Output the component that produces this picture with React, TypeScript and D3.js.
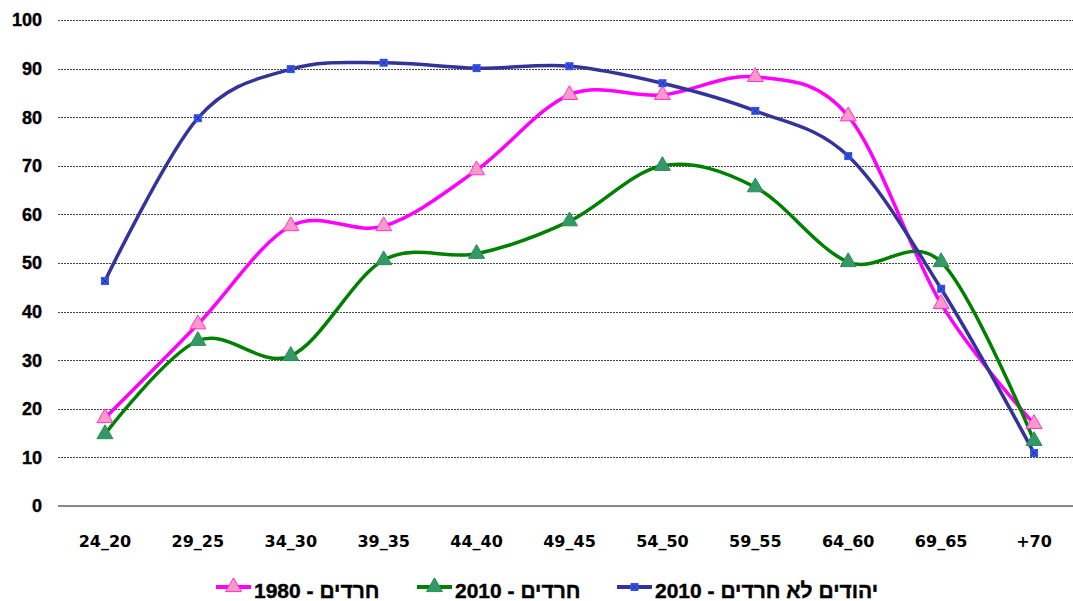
import React, { useEffect, useRef } from "react";
import * as d3 from "d3";

const categories = ["24_20", "29_25", "34_30", "39_35", "44_40", "49_45", "54_50", "59_55", "64_60", "69_65", "+70"];
const haredim1980 = [18.1, 37.4, 57.6, 57.6, 69.1, 84.6, 84.6, 88.3, 80.2, 41.6, 16.9];
const haredim2010 = [14.8, 34, 30.9, 50.6, 51.9, 58.6, 70, 65.6, 50.2, 50.2, 13.4];
const nonHaredim2010 = [46.3, 79.8, 89.9, 91.2, 90.1, 90.5, 87, 81.3, 72, 44.7, 10.9];
const yTicks = [0, 10, 20, 30, 40, 50, 60, 70, 80, 90, 100];

const series = [
  { name: "חרדים - 1980", values: haredim1980, line: "#ff00ff", fill: "#ff99cc", stroke: "#ff33cc", marker: "tri" },
  { name: "חרדים - 2010", values: haredim2010, line: "#008000", fill: "#339966", stroke: "#2e8b57", marker: "tri" },
  { name: "יהודים לא חרדים - 2010", values: nonHaredim2010, line: "#333399", fill: "#3355ee", stroke: "#2244cc", marker: "sq" },
];

const W = 1073, H = 601;

export default function App() {
  const ref = useRef<SVGSVGElement>(null);

  useEffect(() => {
    const svg = d3.select(ref.current);
    svg.selectAll("*").remove();

    const x = d3.scaleBand().domain(categories).range([58.5, 1080.5]);
    const y = d3.scaleLinear().domain([0, 100]).range([506, 20]);
    const cx = (c: string) => (x(c) as number) + x.bandwidth() / 2;

    // grid
    svg.append("g").selectAll("line")
      .data(yTicks.filter(t => t > 0))
      .join("line")
      .attr("x1", 58).attr("x2", W)
      .attr("y1", d => Math.round(y(d)) + 0.5).attr("y2", d => Math.round(y(d)) + 0.5)
      .attr("stroke", "#444").attr("stroke-width", 1).attr("stroke-dasharray", "2,1");

    svg.append("line")
      .attr("x1", 58).attr("x2", W)
      .attr("y1", y(0)).attr("y2", y(0))
      .attr("stroke", "#888").attr("stroke-width", 2);

    // y labels
    svg.append("g").selectAll("text")
      .data(yTicks)
      .join("text")
      .attr("x", 42).attr("y", d => y(d))
      .attr("dy", "0.36em")
      .attr("text-anchor", "end")
      .attr("font-family", "Liberation Sans, Arial, sans-serif")
      .attr("font-weight", "bold")
      .attr("font-size", 18)
      .attr("stroke", "#000").attr("stroke-width", 0.4)
      .text(d => d);

    // x labels
    svg.append("g").selectAll("text")
      .data(categories)
      .join("text")
      .attr("x", d => cx(d)).attr("y", 547)
      .attr("text-anchor", "middle")
      .attr("font-family", "DejaVu Sans, sans-serif")
      .attr("font-weight", "bold")
      .attr("font-size", 16)
      .text(d => d);

    const line = d3.line<number>()
      .x((_, i) => cx(categories[i]))
      .y(d => y(d))
      .curve(d3.curveCatmullRom.alpha(0));

    const tri = d3.symbol().type(d3.symbolTriangle).size(110);

    const drawMarker = (g: any, s: any, px: number, py: number) => {
      if (s.marker === "tri") {
        g.append("path")
          .attr("d", tri())
          .attr("transform", `translate(${px},${py})`)
          .attr("fill", s.fill)
          .attr("stroke", s.stroke)
          .attr("stroke-width", 1);
      } else {
        g.append("rect")
          .attr("x", px - 4).attr("y", py - 4)
          .attr("width", 8).attr("height", 8)
          .attr("fill", s.fill);
        g.append("path")
          .attr("d", `M${px - 3},${py - 3}L${px + 3},${py + 3}M${px + 3},${py - 3}L${px - 3},${py + 3}`)
          .attr("stroke", "#223399").attr("stroke-width", 1);
      }
    };

    series.forEach(s => {
      svg.append("path")
        .datum(s.values)
        .attr("d", line)
        .attr("fill", "none")
        .attr("stroke", s.line)
        .attr("stroke-width", 3.5);
    });

    series.forEach(s => {
      const g = svg.append("g");
      s.values.forEach((v, i) => drawMarker(g, s, cx(categories[i]), y(v)));
    });

    // legend
    const legendX = [216, 417, 617];
    series.forEach((s, i) => {
      const g = svg.append("g");
      const lx = legendX[i];
      g.append("line")
        .attr("x1", lx).attr("x2", lx + 35)
        .attr("y1", 587).attr("y2", 587)
        .attr("stroke", s.line).attr("stroke-width", 4);
      drawMarker(g, s, lx + 17.5, 587);
      g.append("text")
        .attr("x", lx + 38).attr("y", 598)
        .attr("font-family", "Liberation Sans, Arial, sans-serif")
        .attr("font-weight", "bold")
        .attr("font-size", 21)
        .attr("stroke", "#000").attr("stroke-width", 0.4)
        .text(s.name);
    });
  }, []);

  return (
    <svg
      ref={ref}
      width={W}
      height={H}
      style={{ position: "absolute", left: 0, top: 0, background: "#fff" }}
    />
  );
}
